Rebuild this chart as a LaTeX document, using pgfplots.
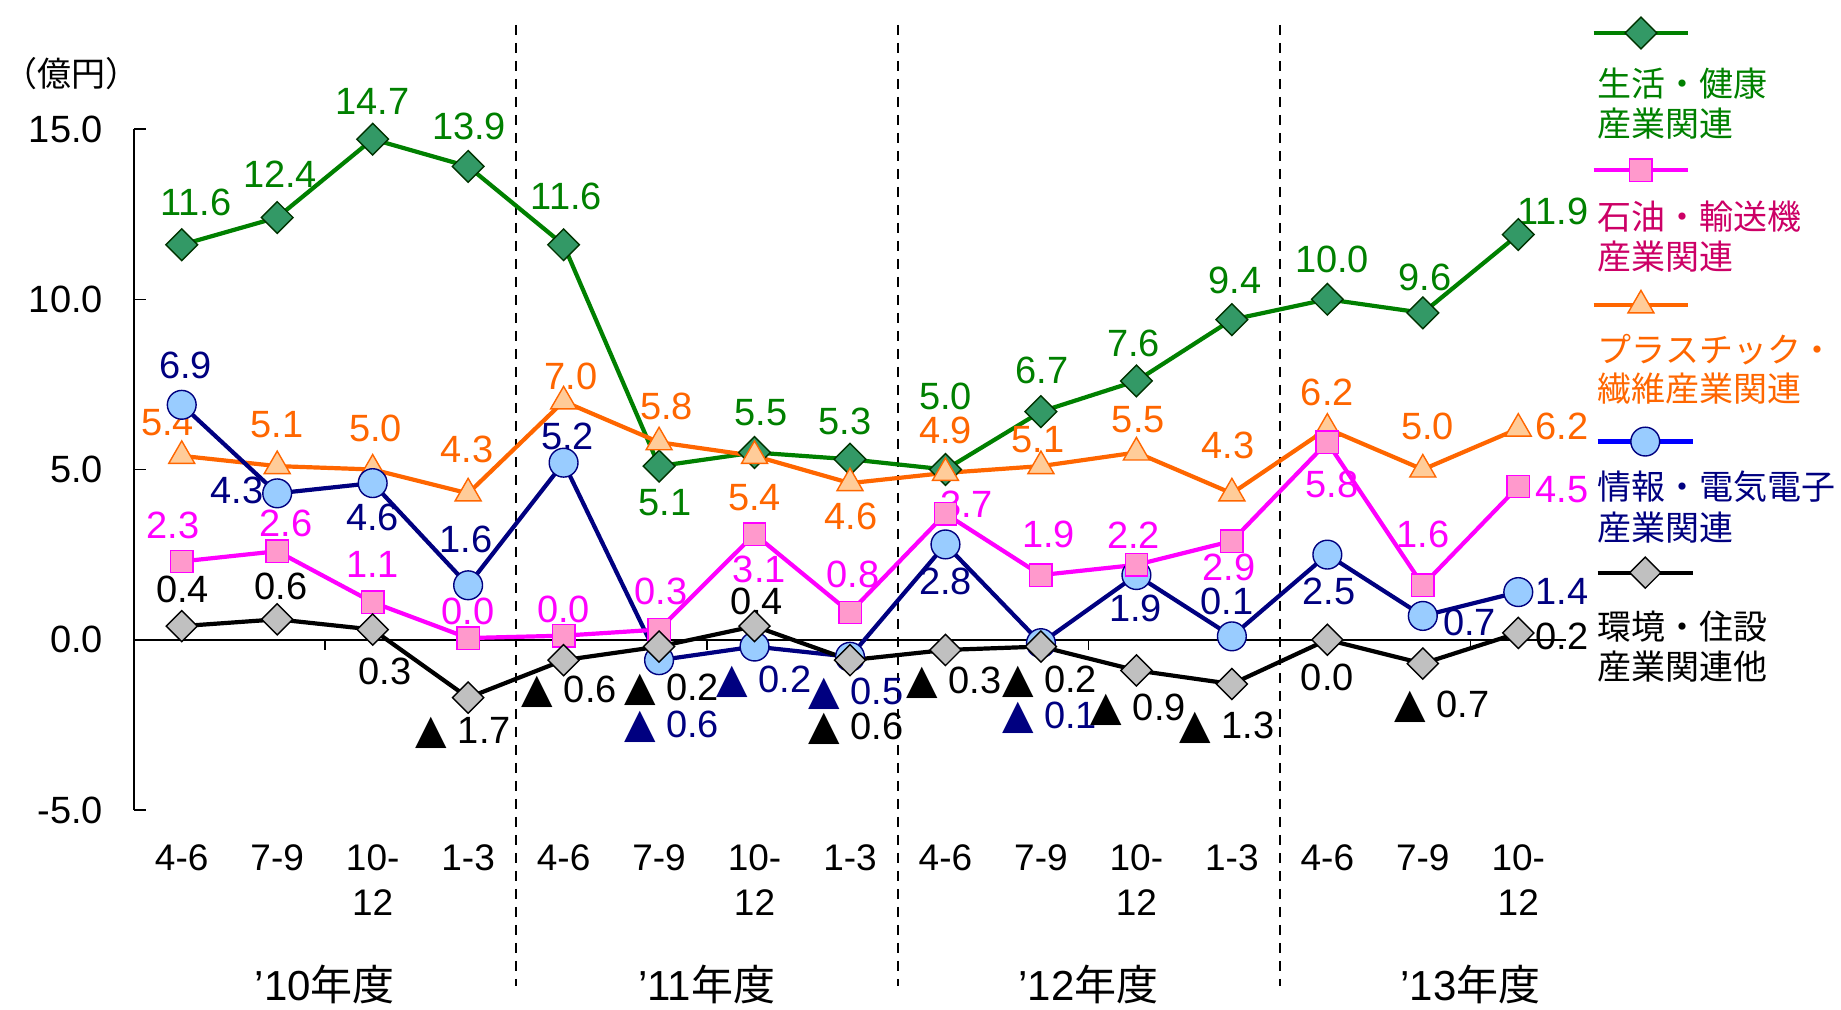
\documentclass[border=0pt]{standalone}
\usepackage{fontspec}
\setmainfont{Liberation Sans}
\newfontfamily\cjk{Noto Sans CJK JP}
\newfontfamily\sym{DejaVu Sans}
\usepackage{pgfplots}
\usepackage{pgfplotstable}
\pgfplotsset{compat=1.18}
\definecolor{grnL}{HTML}{008000}
\definecolor{grnF}{HTML}{339966}
\definecolor{grnE}{HTML}{003300}
\definecolor{pnkL}{HTML}{FF00FF}
\definecolor{pnkF}{HTML}{FF99CC}
\definecolor{pnkT}{HTML}{CC0066}
\definecolor{orgL}{HTML}{FF6600}
\definecolor{orgF}{HTML}{FFCC99}
\definecolor{navL}{HTML}{000080}
\definecolor{navF}{HTML}{99CCFF}
\definecolor{bluL}{HTML}{0000FF}
\definecolor{gryF}{HTML}{C0C0C0}
\newcommand{\tri}{{\sym\fontsize{20.5}{21}\selectfont ▲}}
\newcommand{\lab}[4]{\node[text=#1,inner sep=0pt,font=\fontsize{19}{21}\selectfont] at (axis cs:#2,#3) {#4};}
\newcommand{\leg}[3]{\node[text=#1,inner sep=0pt,anchor=west,font=\cjk\fontsize{17}{20}\selectfont] at (axis cs:14.83,#2) {#3};}
\pgfplotsset{
 sgrn/.style={color=grnL, line width=2.1pt, mark=square*, mark size=5.6pt, mark options={rotate=45, fill=grnF, draw=grnE, line width=0.7pt}},
 spnk/.style={color=pnkL, line width=2.1pt, mark=square*, mark size=5.6pt, mark options={fill=pnkF, draw=pnkL, line width=0.7pt}},
 sorg/.style={color=orgL, line width=2.1pt, mark=triangle*, mark size=7.5pt, mark options={fill=orgF, draw=orgL, line width=0.7pt}},
 snav/.style={color=navL, line width=2.1pt, mark=*, mark size=7.2pt, mark options={fill=navF, draw=navL, line width=0.7pt}},
 sblu/.style={color=bluL, line width=2.1pt, mark=*, mark size=7.2pt, mark options={fill=navF, draw=navL, line width=0.7pt}},
 sblk/.style={color=black, line width=2.1pt, mark=square*, mark size=5.5pt, mark options={rotate=45, fill=gryF, draw=black, line width=0.7pt}},
 skey/.style={forget plot, mark repeat=2, mark phase=2},
}
\pgfplotstableread{
x grn pnk org nav blk
0 11.6 2.3 5.4 6.9 0.4
1 12.4 2.6 5.1 4.3 0.6
2 14.7 1.1 5.0 4.6 0.3
3 13.9 0.05 4.3 1.6 -1.7
4 11.6 0.12 7.0 5.2 -0.6
5 5.1 0.3 5.8 -0.6 -0.2
6 5.5 3.1 5.4 -0.2 0.4
7 5.3 0.8 4.6 -0.5 -0.6
8 5.0 3.7 4.9 2.8 -0.3
9 6.7 1.9 5.1 -0.1 -0.2
10 7.6 2.2 5.5 1.9 -0.9
11 9.4 2.9 4.3 0.1 -1.3
12 10.0 5.8 6.2 2.5 0.0
13 9.6 1.6 5.0 0.7 -0.7
14 11.9 4.5 6.2 1.4 0.2
}\datatable
\begin{document}
\begin{tikzpicture}
\path[use as bounding box] (0,0) rectangle (920.5pt,504.5pt);
\begin{axis}[
 at={(67pt,99.5pt)}, anchor=south west,
 width=716pt, height=340.5pt, scale only axis,
 xmin=-0.5, xmax=14.5, ymin=-5, ymax=15,
 clip=false,
 axis y line=left, axis x line=bottom,
 axis line style={-, black, line width=0.75pt},
 x axis line style={draw=none},
 xtick={0,...,14},
 xticklabels={4-6,7-9,{10-\\12},1-3,4-6,7-9,{10-\\12},1-3,4-6,7-9,{10-\\12},1-3,4-6,7-9,{10-\\12}},
 xtick style={draw=none},
 xticklabel style={align=center, font=\fontsize{18.5}{22.3}\selectfont, yshift=-14pt},
 ytick={-5,0,5,10,15},
 tick align=inside,
 major tick length=6pt,
 ytick style={black, line width=0.75pt},
 yticklabel style={font=\fontsize{19}{21}\selectfont, xshift=-12pt, /pgf/number format/fixed, /pgf/number format/fixed zerofill, /pgf/number format/precision=1, /pgf/number format/assume math mode=true},
]
% zero line and small ticks
\addplot[black, line width=0.75pt, forget plot] coordinates {(-0.5,0) (14.5,0)};
\draw[black, line width=0.75pt] (axis cs:1.5,0) -- (axis cs:1.5,-0.3);
\draw[black, line width=0.75pt] (axis cs:5.5,0) -- (axis cs:5.5,-0.3);
\draw[black, line width=0.75pt] (axis cs:9.5,0) -- (axis cs:9.5,-0.3);
\draw[black, line width=0.75pt] (axis cs:13.5,0) -- (axis cs:13.5,-0.3);
% year separators
\draw[black, line width=1pt, dash pattern=on 5pt off 4pt] (axis cs:3.5,18.06) -- (axis cs:3.5,-10.18);
\draw[black, line width=1pt, dash pattern=on 5pt off 4pt] (axis cs:7.5,18.06) -- (axis cs:7.5,-10.18);
\draw[black, line width=1pt, dash pattern=on 5pt off 4pt] (axis cs:11.5,18.06) -- (axis cs:11.5,-10.18);
% series
\addplot[sgrn, forget plot] table[x=x, y=grn] {\datatable};
\addplot[sorg, forget plot] table[x=x, y=org] {\datatable};
\addplot[snav, forget plot] table[x=x, y=nav] {\datatable};
\addplot[spnk, forget plot] table[x=x, y=pnk] {\datatable};
\addplot[sblk, forget plot] table[x=x, y=blk] {\datatable};
% legend keys (outside the plot area, right)
\addplot[sgrn, skey] coordinates {(14.79,17.82) (15.285,17.82) (15.78,17.82)};
\addplot[spnk, skey] coordinates {(14.79,13.79) (15.285,13.79) (15.78,13.79)};
\addplot[sorg, skey] coordinates {(14.79,9.82) (15.285,9.82) (15.78,9.82)};
\addplot[sblu, skey] coordinates {(14.83,5.82) (15.33,5.82) (15.83,5.82)};
\addplot[sblk, skey] coordinates {(14.83,1.97) (15.33,1.97) (15.83,1.97)};
% legend texts
\leg{grnL}{16.32}{生活・健康}
\leg{grnL}{15.15}{産業関連}
\leg{pnkT}{12.44}{石油・輸送機}
\leg{pnkT}{11.24}{産業関連}
\leg{orgL}{8.53}{プラスチック・}
\leg{orgL}{7.38}{繊維産業関連}
\leg{navL}{4.50}{情報・電気電子}
\leg{navL}{3.29}{産業関連}
\leg{black}{0.38}{環境・住設}
\leg{black}{-0.79}{産業関連他}
% labels green
\lab{grnL}{0.15}{12.85}{11.6}
\lab{grnL}{1.03}{13.68}{12.4}
\lab{grnL}{2.0}{15.82}{14.7}
\lab{grnL}{3.01}{15.09}{13.9}
\lab{grnL}{4.03}{13.03}{11.6}
\lab{grnL}{5.06}{4.03}{5.1}
\lab{grnL}{6.07}{6.67}{5.5}
\lab{grnL}{6.95}{6.42}{5.3}
\lab{grnL}{8.0}{7.15}{5.0}
\lab{grnL}{9.01}{7.91}{6.7}
\lab{grnL}{9.97}{8.7}{7.6}
\lab{grnL}{11.03}{10.54}{9.4}
\lab{grnL}{12.05}{11.18}{10.0}
\lab{grnL}{13.02}{10.65}{9.6}
\lab{grnL}{14.36}{12.59}{11.9}
% pink
\lab{pnkL}{-0.09}{3.35}{2.3}
\lab{pnkL}{1.09}{3.42}{2.6}
\lab{pnkL}{2.0}{2.2}{1.1}
\lab{pnkL}{3.0}{0.83}{0.0}
\lab{pnkL}{4.0}{0.88}{0.0}
\lab{pnkL}{5.02}{1.42}{0.3}
\lab{pnkL}{6.05}{2.08}{3.1}
\lab{pnkL}{7.03}{1.91}{0.8}
\lab{pnkL}{8.22}{3.97}{3.7}
\lab{pnkL}{9.08}{3.08}{1.9}
\lab{pnkL}{9.97}{3.08}{2.2}
\lab{pnkL}{10.97}{2.12}{2.9}
\lab{pnkL}{12.05}{4.56}{5.8}
\lab{pnkL}{13.0}{3.09}{1.6}
\lab{pnkL}{14.46}{4.41}{4.5}
% orange
\lab{orgL}{-0.15}{6.39}{5.4}
\lab{orgL}{1.0}{6.32}{5.1}
\lab{orgL}{2.03}{6.22}{5.0}
\lab{orgL}{2.99}{5.6}{4.3}
\lab{orgL}{4.08}{7.74}{7.0}
\lab{orgL}{5.08}{6.86}{5.8}
\lab{orgL}{6.0}{4.18}{5.4}
\lab{orgL}{7.01}{3.63}{4.6}
\lab{orgL}{8.0}{6.15}{4.9}
\lab{orgL}{8.97}{5.88}{5.1}
\lab{orgL}{10.02}{6.47}{5.5}
\lab{orgL}{10.96}{5.7}{4.3}
\lab{orgL}{12.0}{7.26}{6.2}
\lab{orgL}{13.05}{6.27}{5.0}
\lab{orgL}{14.46}{6.27}{6.2}
% navy
\lab{navL}{0.04}{8.06}{6.9}
\lab{navL}{0.58}{4.38}{4.3}
\lab{navL}{2.0}{3.59}{4.6}
\lab{navL}{2.98}{2.94}{1.6}
\lab{navL}{4.04}{5.97}{5.2}
\lab{navL}{5.13}{-2.55}{\tri~0.6}
\lab{navL}{6.1}{-1.23}{\tri~0.2}
\lab{navL}{7.06}{-1.58}{\tri~0.5}
\lab{navL}{8.0}{1.71}{2.8}
\lab{navL}{9.09}{-2.29}{\tri~0.1}
\lab{navL}{9.99}{0.93}{1.9}
\lab{navL}{10.95}{1.12}{0.1}
\lab{navL}{12.02}{1.41}{2.5}
\lab{navL}{13.49}{0.5}{0.7}
\lab{navL}{14.46}{1.41}{1.4}
% black
\lab{black}{0.01}{1.47}{0.4}
\lab{black}{1.04}{1.57}{0.6}
\lab{black}{2.13}{-0.93}{0.3}
\lab{black}{2.95}{-2.74}{\tri~1.7}
\lab{black}{4.06}{-1.52}{\tri~0.6}
\lab{black}{5.13}{-1.47}{\tri~0.2}
\lab{black}{6.02}{1.13}{0.4}
\lab{black}{7.06}{-2.62}{\tri~0.6}
\lab{black}{8.09}{-1.25}{\tri~0.3}
\lab{black}{9.09}{-1.22}{\tri~0.2}
\lab{black}{10.02}{-2.06}{\tri~0.9}
\lab{black}{10.95}{-2.59}{\tri~1.3}
\lab{black}{12.0}{-1.12}{0.0}
\lab{black}{13.2}{-1.97}{\tri~0.7}
\lab{black}{14.46}{0.09}{0.2}
% year labels and unit
\node[inner sep=0pt, font=\fontsize{21}{24}\selectfont] at (axis cs:1.5,-10.12) {’10{\cjk 年度}};
\node[inner sep=0pt, font=\fontsize{21}{24}\selectfont] at (axis cs:5.5,-10.12) {’11{\cjk 年度}};
\node[inner sep=0pt, font=\fontsize{21}{24}\selectfont] at (axis cs:9.5,-10.12) {’12{\cjk 年度}};
\node[inner sep=0pt, font=\fontsize{21}{24}\selectfont] at (axis cs:13.5,-10.12) {’13{\cjk 年度}};
\node[inner sep=0pt, font=\cjk\fontsize{17}{20}\selectfont] at (axis cs:-1.15,16.62) {（億円）};
\end{axis}
\end{tikzpicture}
\end{document}
